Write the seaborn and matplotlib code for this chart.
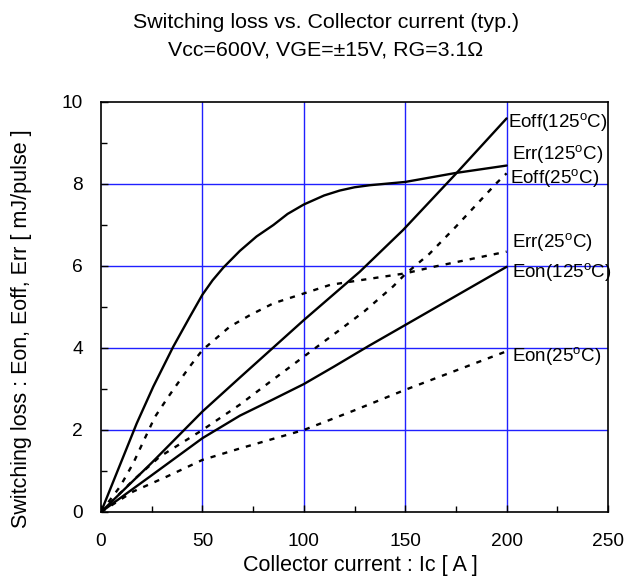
import matplotlib
matplotlib.use("Agg")
import matplotlib.pyplot as plt
import seaborn as sns
import pandas as pd

# ---- data ----
ic_eoff125 = [0, 25, 50, 68.5, 100, 127.6, 149, 175, 200]
eoff125 = [0, 1.2, 2.45, 3.28, 4.68, 5.86, 6.88, 8.25, 9.6]

ic_err125 = [0, 17.6, 25.8, 35.6, 43.8, 50, 55, 60.3, 68.5, 76.7, 85, 92, 100, 110, 117.7, 125, 132.5, 150, 175, 200]
err125 = [0, 2.16, 3.06, 4.03, 4.76, 5.3, 5.65, 5.96, 6.37, 6.72, 7.0, 7.27, 7.5, 7.72, 7.84, 7.92, 7.97, 8.05, 8.27, 8.45]

ic_eoff25 = [0, 16, 29, 50, 68.5, 80, 100, 117.7, 130, 144, 150, 162, 175, 185, 195, 200]
eoff25 = [0, 0.78, 1.35, 2.0, 2.62, 3.05, 3.79, 4.44, 4.9, 5.5, 5.8, 6.3, 6.96, 7.49, 8.02, 8.26]

ic_err25 = [0, 9.4, 15.9, 20.8, 26.6, 33.2, 37.3, 43.8, 50, 63.5, 73.4, 85, 100, 113, 130, 150, 164, 200]
err25 = [0, 0.62, 1.19, 1.71, 2.32, 2.81, 3.1, 3.55, 3.95, 4.52, 4.8, 5.09, 5.33, 5.54, 5.67, 5.82, 5.98, 6.35]

ic_eon125 = [0, 24, 50, 68.5, 85, 100, 115, 132, 150, 175, 200]
eon125 = [0, 0.86, 1.8, 2.35, 2.75, 3.12, 3.55, 4.05, 4.56, 5.27, 5.98]

ic_eon25 = [0, 15.9, 32.3, 50, 68.5, 100, 125, 150, 175, 200]
eon25 = [0, 0.5, 0.86, 1.27, 1.55, 2.0, 2.48, 2.98, 3.45, 3.92]

labels = ["Eoff(125$^\\mathregular{o}$C)", "Err(125$^\\mathregular{o}$C)", "Eoff(25$^\\mathregular{o}$C)",
          "Err(25$^\\mathregular{o}$C)", "Eon(125$^\\mathregular{o}$C)", "Eon(25$^\\mathregular{o}$C)"]
label_y = [9.49, 8.72, 8.14, 6.58, 5.85, 3.78]
label_x = [200.5, 202.5, 201.5, 202.5, 202.5, 202.5]

x_ticks = [0, 50, 100, 150, 200, 250]
y_ticks = [0, 2, 4, 6, 8, 10]

title_lines = ["Switching loss vs. Collector current (typ.)", "Vcc=600V, VGE=\u00b115V, RG=3.1\u03a9"]
xlabel = "Collector current : Ic [ A ]"
ylabel = "Switching loss : Eon, Eoff, Err [ mJ/pulse ]"

# ---- plotting ----
sns.set_theme(style="white")
plt.rcParams['font.family'] = ['Liberation Sans', 'DejaVu Sans']
plt.rcParams['text.color'] = 'black'
plt.rcParams['axes.labelcolor'] = 'black'
plt.rcParams['xtick.color'] = 'black'
plt.rcParams['ytick.color'] = 'black'

fig = plt.figure(figsize=(6.24, 5.78), dpi=100)
ax = fig.add_axes([101/624, 1-512/578, (608-101)/624, (512-102)/578])

dash = (0, (2.2, 3.0))
series = [
    (ic_eoff125, eoff125, '-'),
    (ic_err125, err125, '-'),
    (ic_eoff25, eoff25, dash),
    (ic_err25, err25, dash),
    (ic_eon125, eon125, '-'),
    (ic_eon25, eon25, dash),
]
for xs, ys, ls in series:
    df = pd.DataFrame({"Ic": xs, "E": ys})
    sns.lineplot(data=df, x="Ic", y="E", ax=ax, color="black", linewidth=1.7,
                 linestyle=ls, sort=False, estimator=None)

for lab, lx, ly in zip(labels, label_x, label_y):
    ax.text(lx, ly, lab, fontsize=13.5, va="center", ha="left", color="black", clip_on=False)

ax.set_xlim(0, 250)
ax.set_ylim(0, 10)
ax.set_xticks(x_ticks)
ax.set_yticks(y_ticks)
ax.set_xticks([25, 75, 125, 175, 225], minor=True)
ax.set_yticks([1, 3, 5, 7, 9], minor=True)
ax.tick_params(axis='both', which='both', direction='in', color='black', labelcolor='black', labelsize=13.8)
ax.tick_params(axis='both', which='major', length=5, width=1, bottom=True, left=True)
ax.tick_params(axis='x', which='major', pad=15)
ax.tick_params(axis='y', which='major', pad=13)
ax.tick_params(axis='both', which='minor', length=4, width=1, bottom=True, left=True)

for v in [50, 100, 150, 200]:
    ax.axvline(v, color="#2020ff", linewidth=1.0, zorder=0)
for v in [2, 4, 6, 8]:
    ax.axhline(v, color="#2020ff", linewidth=1.0, zorder=0)

for s in ax.spines.values():
    s.set_color("black")
    s.set_linewidth(1.2)

ax.set_xlabel("")
ax.set_ylabel("")
fig.text(360/624, 1-565/578, xlabel, ha="center", va="center", fontsize=15.5, color="black")
fig.text(22/624, 1-329/578, ylabel, ha="center", va="center", rotation=90, fontsize=15.5, color="black")
fig.text(326/624, 1-22/578, title_lines[0], ha="center", va="center", fontsize=15.4, color="black")
fig.text(326/624, 1-50/578, title_lines[1], ha="center", va="center", fontsize=15.4, color="black")

fig.savefig("out.png", dpi=100)
